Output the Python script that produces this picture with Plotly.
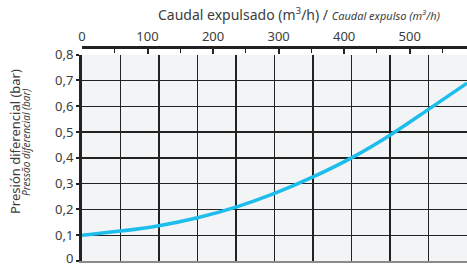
import plotly.graph_objects as go

# Data
flow_m3h = [0, 58.75, 117.5, 176.25, 235, 293.75, 352.5, 411.25, 470, 528.75, 587.5]
pressure_bar = [0.100, 0.116, 0.137, 0.168, 0.209, 0.262, 0.326, 0.400, 0.488, 0.588, 0.690]

y_ticks = [0, 0.1, 0.2, 0.3, 0.4, 0.5, 0.6, 0.7, 0.8]
y_ticktext = ["", "0,1", "0,2", "0,3", "0,4", "0,5", "0,6", "0,7", "0,8"]
y_zero_label = "0"
x_top_ticks = [0, 100, 200, 300, 400, 500]

X_MAX = 587.5
FONT = "Noto Sans"
TXT = "#3c3c3c"
DARK = "#222222"

fig = go.Figure()
fig.add_trace(go.Scatter(
    x=flow_m3h, y=pressure_bar, mode="lines",
    line=dict(color="#1DBDEC", width=3.5, shape="spline", smoothing=1.0),
    xaxis="x", yaxis="y", showlegend=False, hoverinfo="skip",
))
# invisible trace to activate top axis
fig.add_trace(go.Scatter(
    x=[0, X_MAX], y=[None, None], mode="lines", xaxis="x2", yaxis="y",
    showlegend=False, hoverinfo="skip",
))

fig.update_layout(
    width=467, height=266,
    margin=dict(l=82, r=0, t=47, b=5, autoexpand=False),
    paper_bgcolor="white",
    plot_bgcolor="#F3F4F6",
    font=dict(family=FONT, color=TXT, size=13),
    xaxis=dict(
        range=[0, X_MAX], domain=[0, 1], automargin=False,
        tick0=0, dtick=X_MAX / 10,
        showgrid=True, gridcolor=DARK, gridwidth=1.3,
        showticklabels=False, ticks="", zeroline=False,
        showline=True, linecolor="#8a8a8a", linewidth=1.5,
    ),
    xaxis2=dict(
        range=[0, X_MAX], overlaying="x", side="top", automargin=False,
        anchor="free", position=1,
        tickvals=x_top_ticks,
        ticks="inside", ticklen=5, tickwidth=2, tickcolor=DARK,
        minor=dict(dtick=50, ticks="inside", ticklen=4, tickwidth=1, tickcolor=DARK, showgrid=False),
        showgrid=False, zeroline=False,
        showline=True, linecolor=DARK, linewidth=2.5,
        tickfont=dict(size=13, color=TXT, family=FONT),
        ticklabeloverflow="allow",
    ),
    yaxis=dict(
        range=[0, 0.8], domain=[0, 0.964], automargin=False,
        tickvals=y_ticks, ticktext=y_ticktext,
        showgrid=True, gridcolor=DARK, gridwidth=1.3,
        ticks="outside", ticklen=3, tickwidth=2, tickcolor=DARK,
        zeroline=False,
        showline=True, linecolor=DARK, linewidth=3,
        tickfont=dict(size=13, color=TXT, family=FONT),
        ticklabeloverflow="allow",
    ),
    annotations=[
        dict(
            text="Caudal expulsado (m<sup>3</sup>/h) / <i><span style='font-size:11px'>Caudal expulso (m<sup>3</sup>/h)</span></i>",
            xref="paper", yref="paper", x=0.564, y=1.154,
            xanchor="center", yanchor="middle", showarrow=False,
            font=dict(size=14, color=TXT, family=FONT),
        ),
        dict(
            text="Presión diferencial (bar)",
            xref="paper", yref="paper", x=(15 - 82) / 385, y=(266 - 5 - 142) / 214,
            xanchor="center", yanchor="middle", textangle=-90, showarrow=False,
            font=dict(size=13, color=TXT, family=FONT),
        ),
        dict(
            text="<i>Pressão diferencial (bar)</i>",
            xref="paper", yref="paper", x=(26 - 82) / 385, y=(266 - 5 - 143) / 214,
            xanchor="center", yanchor="middle", textangle=-90, showarrow=False,
            font=dict(size=10, color=TXT, family=FONT),
        ),
        dict(
            text=y_zero_label,
            xref="paper", yref="y", x=0, y=y_ticks[0],
            xanchor="right", yanchor="middle", xshift=-8, yshift=3,
            showarrow=False, borderpad=0,
            font=dict(size=13, color=TXT, family=FONT),
        ),
    ],
)

fig.write_html(
    "out.html",
    config={"displayModeBar": False, "staticPlot": True},
    post_script="document.body.style.margin='0';document.body.style.overflow='hidden';",
)
